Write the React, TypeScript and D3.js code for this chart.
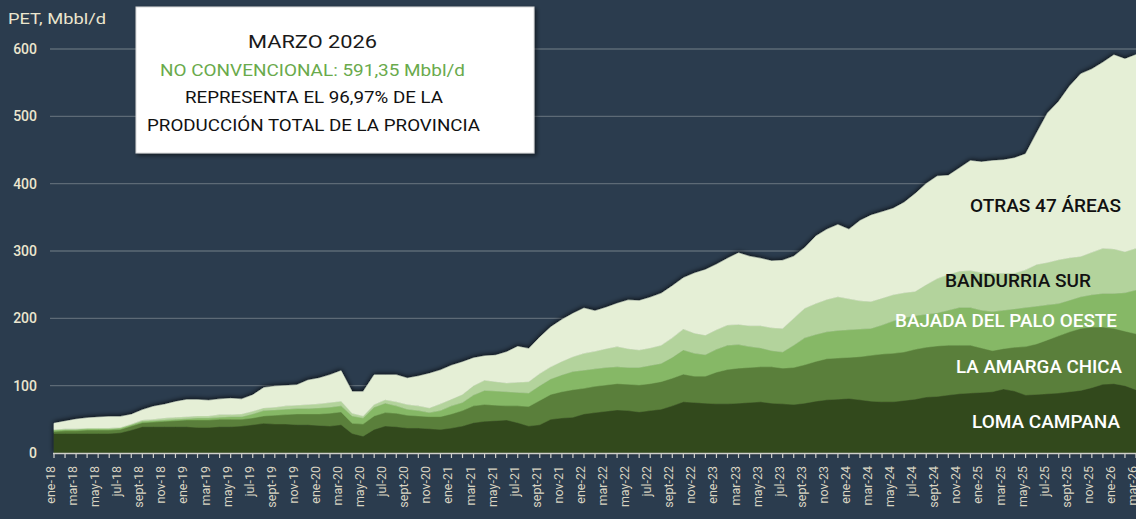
import React from "react";
import * as d3 from "d3";

const MONTH_NAMES = ["ene", "feb", "mar", "abr", "may", "jun", "jul", "ago", "sept", "oct", "nov", "dic"];
const YEARS = ["18", "19", "20", "21", "22", "23", "24", "25", "26"];
const months: string[] = [];
YEARS.forEach((y) => MONTH_NAMES.forEach((m) => months.push(`${m}-${y}`)));
const categories = months.slice(0, 99); // ene-18 .. mar-26

const lomaCampana = [
  29, 29, 29, 29, 29, 29, 30, 34, 39, 39, 39, 39, 39, 38, 38, 39, 39, 40, 42, 44,
  43, 43, 42, 42, 41, 40, 42, 29, 25, 35, 40, 39, 37, 37, 36, 35, 37, 40, 45, 47,
  48, 49, 45, 40, 42, 50, 52, 53, 58, 60, 62, 64, 63, 61, 63, 65, 70, 76, 75, 74,
  73, 73, 74, 75, 76, 74, 73, 72, 74, 77, 79, 80, 81, 79, 77, 76, 76, 78, 80, 83,
  84, 86, 88, 89, 90, 91, 95, 92, 86, 87, 88, 89, 91, 93, 97, 102, 103, 100, 94,
];
const laAmargaChica = [
  3, 4, 4, 5, 5, 5, 5, 6, 6, 7, 8, 9, 10, 11, 11, 11, 11, 10, 10, 11,
  13, 14, 16, 16, 17, 19, 19, 15, 18, 20, 20, 20, 19, 18, 18, 19, 21, 23, 25, 25,
  23, 21, 25, 29, 36, 37, 39, 41, 38, 39, 39, 39, 39, 40, 40, 41, 41, 41, 39, 40,
  47, 51, 52, 52, 52, 54, 53, 55, 57, 59, 61, 61, 61, 64, 68, 71, 72, 72, 74, 74,
  75, 74, 72, 71, 66, 61, 60, 65, 72, 75, 80, 85, 89, 92, 90, 85, 82, 81, 83,
];
const bajadaDelPaloOeste = [
  2, 2, 2, 2, 2, 2, 2, 2, 2, 2, 2, 2, 2, 3, 3, 3, 4, 4, 6, 8,
  8, 8, 8, 8, 9, 9, 9, 11, 9, 13, 14, 11, 9, 8, 6, 9, 12, 12, 16, 21,
  21, 21, 20, 20, 22, 23, 25, 27, 27, 26, 26, 25, 25, 26, 27, 27, 31, 36, 34, 32,
  34, 36, 35, 31, 28, 24, 24, 33, 40, 40, 40, 41, 41, 41, 40, 43, 48, 51, 50, 49,
  49, 52, 56, 56, 56, 58, 57, 57, 58, 56, 52, 48, 47, 47, 48, 50, 52, 57, 65,
];
const bandurriaSur = [
  1, 1, 1, 1, 1, 1, 1, 1, 2, 2, 3, 3, 3, 3, 3, 4, 3, 4, 4, 4,
  4, 5, 5, 6, 6, 7, 7, 4, 3, 4, 5, 6, 7, 7, 7, 10, 10, 12, 14, 15,
  14, 13, 15, 17, 18, 18, 20, 22, 25, 26, 28, 30, 28, 26, 26, 27, 29, 31, 30, 29,
  29, 30, 30, 31, 33, 34, 35, 40, 44, 46, 48, 50, 46, 42, 40, 40, 39, 37, 36, 44,
  51, 53, 54, 55, 56, 57, 55, 53, 56, 62, 63, 65, 63, 60, 63, 67, 66, 61, 62,
];
const otras47Areas = [
  9, 11, 14, 15, 16, 17, 16, 14, 15, 19, 20, 23, 25, 24, 23, 23, 24, 22, 24, 30,
  31, 30, 30, 36, 38, 41, 45, 32, 36, 44, 37, 40, 39, 44, 51, 50, 50, 48, 41, 36,
  39, 46, 53, 49, 54, 59, 62, 64, 67, 60, 61, 64, 72, 73, 75, 77, 77, 76, 89, 97,
  97, 99, 106, 103, 100, 99, 101, 92, 90, 100, 104, 107, 103, 119, 128, 128, 128, 134, 145, 150,
  152, 147, 153, 163, 164, 167, 168, 171, 172, 195, 222, 235, 255, 271, 272, 276, 288, 286, 287.35,
];

const SERIES = [
  { key: "lc", label: "LOMA CAMPANA", values: lomaCampana, color: "#33481f" },
  { key: "lac", label: "LA AMARGA CHICA", values: laAmargaChica, color: "#5a7f3a" },
  { key: "bdpo", label: "BAJADA DEL PALO OESTE", values: bajadaDelPaloOeste, color: "#86b866" },
  { key: "bs", label: "BANDURRIA SUR", values: bandurriaSur, color: "#b3d39c" },
  { key: "otras", label: "OTRAS 47 ÁREAS", values: otras47Areas, color: "#e5efd6" },
];

const yTicks = [0, 100, 200, 300, 400, 500, 600];

const W = 1136;
const H = 519;
const BG = "#2b3c4e";
const FONT = "Roboto, 'Noto Sans', sans-serif";

export default function App() {
  const x = d3.scalePoint<string>().domain(categories).range([54, 1136]);
  const y = d3.scaleLinear().domain([0, 600]).range([453, 49]);

  const table = categories.map((c, i) => {
    const row: any = { cat: c };
    SERIES.forEach((s) => (row[s.key] = s.values[i]));
    return row;
  });
  const stacked = d3.stack<any>().keys(SERIES.map((s) => s.key))(table);
  const area = d3
    .area<any>()
    .x((d) => x(d.data.cat) as number)
    .y0((d) => y(d[0]))
    .y1((d) => y(d[1]))
    .curve(d3.curveLinear);

  const labelDefs = [
    { text: "OTRAS 47 ÁREAS", x: 970, y: 211.5, w: 151, fill: "#111" },
    { text: "BANDURRIA SUR", x: 945, y: 287, w: 146, fill: "#111" },
    { text: "BAJADA DEL PALO OESTE", x: 895, y: 326.5, w: 222, fill: "#ffffff" },
    { text: "LA AMARGA CHICA", x: 956, y: 373, w: 166, fill: "#ffffff" },
    { text: "LOMA CAMPANA", x: 972, y: 428, w: 148, fill: "#ffffff" },
  ];

  return (
    <svg
      width={W}
      height={H}
      viewBox={`0 0 ${W} ${H}`}
      style={{ position: "absolute", left: 0, top: 0, display: "block", background: BG }}
      fontFamily={FONT}
    >
      <defs>
        <filter id="areaShadow" x="-5%" y="-10%" width="110%" height="120%">
          <feDropShadow dx="0" dy="-1" stdDeviation="2.4" floodColor="#000" floodOpacity="0.8" />
        </filter>
        <filter id="boxShadow" x="-5%" y="-5%" width="112%" height="115%">
          <feDropShadow dx="2" dy="2" stdDeviation="2" floodColor="#000" floodOpacity="0.55" />
        </filter>
      </defs>
      <rect x={0} y={0} width={W} height={H} fill={BG} />

      {/* gridlines */}
      {yTicks.slice(1).map((t) => (
        <line key={t} x1={50} x2={W} y1={y(t)} y2={y(t)} stroke="#5d6a76" strokeWidth={1.3} />
      ))}

      {/* y labels */}
      {yTicks.map((t) => (
        <text key={t} x={37} y={y(t) + 5} textAnchor="end" fontSize={14} fontWeight={500} fill="#ece6cf">
          {t}
        </text>
      ))}
      <text x={8} y={24} fontSize={14} fontWeight={400} fill="#ece6cf" textLength={98} lengthAdjust="spacingAndGlyphs">
        PET, Mbbl/d
      </text>

      {/* stacked areas */}
      <g filter="url(#areaShadow)">
        {stacked.map((layer, i) => (
          <path key={layer.key} d={area(layer) as string} fill={SERIES[i].color} stroke={SERIES[i].color} strokeWidth={0.5} />
        ))}
      </g>

      {/* x axis */}
      <line x1={53} x2={W} y1={453.5} y2={453.5} stroke="#d0d0cc" strokeWidth={1.6} />
      {categories.map((c) => (
        <line key={c} x1={x(c)} x2={x(c)} y1={453} y2={458} stroke="#d0d0cc" strokeWidth={1.2} />
      ))}
      {categories.map((c, i) =>
        i % 2 === 0 ? (
          <text
            key={"l" + c}
            transform={`translate(${(x(c) as number) + 1},${466}) rotate(-90)`}
            textAnchor="end"
            fontSize={12.5}
            fill="#d9d4c2"
          >
            {c}
          </text>
        ) : null
      )}

      {/* series labels */}
      {labelDefs.map((l) => (
        <text
          key={l.text}
          x={l.x}
          y={l.y}
          fontSize={18}
          fontWeight={500}
          fill={l.fill}
          textLength={l.w}
          lengthAdjust="spacingAndGlyphs"
        >
          {l.text}
        </text>
      ))}

      {/* info box */}
      <rect x={136} y={7} width={398} height={146} fill="#ffffff" stroke="#d8d8d8" strokeWidth={1} filter="url(#boxShadow)" />
      <text x={248} y={48} fontSize={19} fontWeight={400} fill="#1a1a1a" textLength={129} lengthAdjust="spacingAndGlyphs">
        MARZO 2026
      </text>
      <text x={160} y={76} fontSize={17} fontWeight={400} fill="#6aaa4c" textLength={305} lengthAdjust="spacingAndGlyphs">
        NO CONVENCIONAL: 591,35 Mbbl/d
      </text>
      <text x={185} y={103} fontSize={17} fontWeight={400} fill="#111" textLength={258} lengthAdjust="spacingAndGlyphs">
        REPRESENTA EL 96,97% DE LA
      </text>
      <text x={147} y={131} fontSize={17} fontWeight={400} fill="#111" textLength={333} lengthAdjust="spacingAndGlyphs">
        PRODUCCIÓN TOTAL DE LA PROVINCIA
      </text>
    </svg>
  );
}
